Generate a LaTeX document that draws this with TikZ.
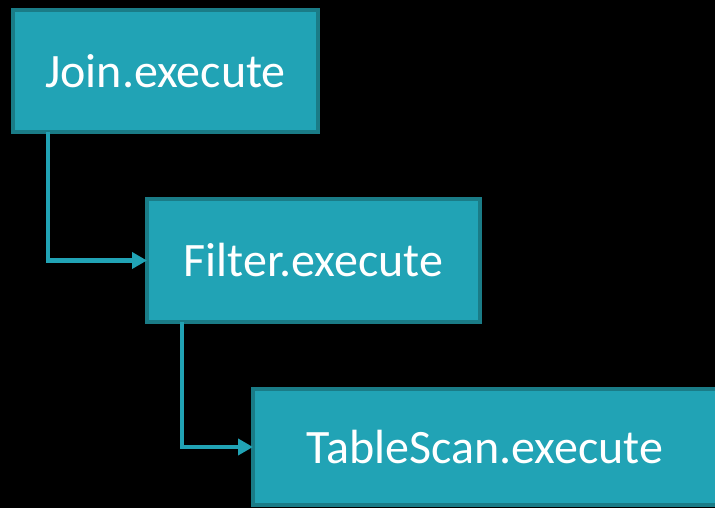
\documentclass[tikz,border=0pt]{standalone}
\usepackage{fontspec}
\setmainfont{Carlito}
\usetikzlibrary{arrows.meta}
\definecolor{tealfill}{HTML}{21A3B5}
\definecolor{tealedge}{HTML}{1A7C87}
\begin{document}
\begin{tikzpicture}[x=1pt,y=1pt,
  opbox/.style={draw=tealedge, fill=tealfill, line width=4pt, rectangle,
    inner sep=0pt, outer sep=0pt, text=white, font=\fontsize{48}{56}\selectfont},
  conn/.style={draw=tealfill, line width=4.5pt,
    -{Triangle[length=15pt,width=16pt]}}]
  \useasboundingbox (0,0) rectangle (715,508);
  \fill[black] (0,0) rectangle (715,508);
  \clip (0,0) rectangle (715,508);
  \node[opbox, minimum width=305pt, minimum height=122pt] (join) at (165.5,437) {Join.execute};
  \node[opbox, minimum width=333pt, minimum height=123pt] (filter) at (313.5,247.5) {Filter.execute};
  \node[opbox, minimum width=464pt, minimum height=116pt] (scan) at (485,61) {TableScan.execute};
  \draw[conn] ([xshift=35pt]join.south west) |- (filter.west);
  \draw[conn] ([xshift=35pt]filter.south west) |- (scan.west);
\end{tikzpicture}
\end{document}
